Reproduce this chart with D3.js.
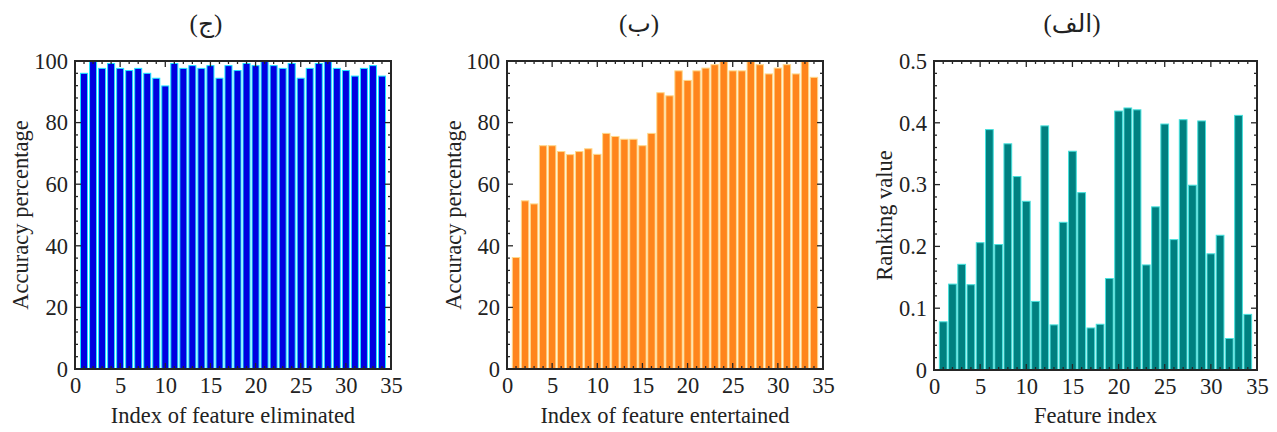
<!DOCTYPE html>
<html>
<head>
<meta charset="utf-8">
<script src="https://cdn.jsdelivr.net/npm/d3@7"></script>
<style>
  html, body { margin: 0; padding: 0; background: #fff; }
  svg text { font-family: "Liberation Serif", "DejaVu Sans", serif; fill: #222; }
</style>
</head>
<body>
<svg id="chart" width="1277" height="432"></svg>
<script>
// Feature indices shared by the three panels
const featureIdx = d3.range(1, 35);

// Accuracy after eliminating each feature (%)
const eliminatedAcc = [96.0, 100, 97.6, 99.2, 97.6, 96.9, 97.6, 96.0, 94.4, 91.9,
  99.2, 97.6, 98.5, 97.6, 98.5, 94.4, 98.5, 96.9, 99.2, 98.5,
  100, 98.5, 97.6, 99.2, 94.4, 97.6, 99.2, 100, 97.6, 96.9,
  95.1, 97.6, 98.5, 95.1];

// Accuracy as features are entertained one by one (%)
const entertainedAcc = [36.2, 54.6, 53.6, 72.5, 72.5, 70.6, 69.6, 70.6, 71.5, 69.7,
  76.5, 75.5, 74.6, 74.6, 72.5, 76.5, 89.7, 88.7, 96.8, 93.7,
  96.8, 97.7, 98.8, 100, 96.8, 96.8, 100, 98.8, 95.8, 97.7,
  98.8, 95.8, 100, 94.7];

// Ranking value for each feature
const rankingVal = [0.078, 0.139, 0.171, 0.138, 0.206, 0.389, 0.203, 0.366, 0.313, 0.273,
  0.111, 0.395, 0.073, 0.239, 0.354, 0.287, 0.068, 0.074, 0.148, 0.419,
  0.424, 0.421, 0.170, 0.264, 0.398, 0.211, 0.405, 0.299, 0.403, 0.188,
  0.218, 0.051, 0.412, 0.090];

// Axis tick values
const xTicks = [0, 5, 10, 15, 20, 25, 30, 35];
const accTicks = [0, 20, 40, 60, 80, 100];
const rankTicks = [0, 0.1, 0.2, 0.3, 0.4, 0.5];

const panels = [
  { values: eliminatedAcc, box: [75, 61, 391, 369], yMax: 100, yTicks: accTicks, yMinor: 4,
    fmt: d => String(d), fill: "#0000e0", edge: "#1ee6ff",
    title: "(ج)", titleX: 206, yLabel: "Accuracy percentage", yLabelX: 20,
    xLabel: "Index of feature eliminated", barW: 0.78 },
  { values: entertainedAcc, box: [507, 61, 823, 369], yMax: 100, yTicks: accTicks, yMinor: 4,
    fmt: d => String(d), fill: "#ff851c", edge: "#ffd88a",
    title: "(ب)", titleX: 639, yLabel: "Accuracy percentage", yLabelX: 453,
    xLabel: "Index of feature entertained", barW: 0.82 },
  { values: rankingVal, box: [934, 61, 1257, 370], yMax: 0.5, yTicks: rankTicks, yMinor: 0.02,
    fmt: d => d === 0 ? "0" : d3.format(".1f")(d), fill: "#008080", edge: "#45e0dc",
    title: "(الف)", titleX: 1072, yLabel: "Ranking value", yLabelX: 884,
    xLabel: "Feature index", barW: 0.84 }
];

const svg = d3.select("#chart");
const frameColor = "#262626";
const tickFont = 22.5;
const labelFont = 22.5;

panels.forEach(p => {
  const [x0, y0, x1, y1] = p.box;
  const x = d3.scaleLinear().domain([0, 35]).range([x0, x1]);
  const y = d3.scaleLinear().domain([0, p.yMax]).range([y1, y0]);
  const g = svg.append("g");

  // bars
  g.selectAll("rect.bar").data(p.values).join("rect")
    .attr("class", "bar")
    .attr("x", (d, i) => x(featureIdx[i] - p.barW / 2))
    .attr("width", x(p.barW) - x(0))
    .attr("y", d => y(d))
    .attr("height", d => y(0) - y(d))
    .attr("fill", p.fill)
    .attr("stroke", p.edge)
    .attr("stroke-width", 1);

  // minor / major ticks pointing inward on all four sides
  const xMinor = d3.range(0, 36, 1);
  const yMinorVals = d3.range(0, p.yMax + p.yMinor / 2, p.yMinor);
  const isMajorX = v => v % 5 === 0;
  const isMajorY = v => p.yTicks.some(t => Math.abs(t - v) < 1e-9);
  const tk = g.append("g").attr("stroke", frameColor).attr("stroke-width", 1.3);
  xMinor.forEach(v => {
    const L = isMajorX(v) ? 6 : 3;
    tk.append("line").attr("x1", x(v)).attr("x2", x(v)).attr("y1", y1).attr("y2", y1 - L);
    tk.append("line").attr("x1", x(v)).attr("x2", x(v)).attr("y1", y0).attr("y2", y0 + L);
  });
  yMinorVals.forEach(v => {
    const L = isMajorY(v) ? 6 : 3;
    tk.append("line").attr("y1", y(v)).attr("y2", y(v)).attr("x1", x0).attr("x2", x0 + L);
    tk.append("line").attr("y1", y(v)).attr("y2", y(v)).attr("x1", x1).attr("x2", x1 - L);
  });

  // frame
  g.append("rect").attr("x", x0).attr("y", y0).attr("width", x1 - x0).attr("height", y1 - y0)
    .attr("fill", "none").attr("stroke", frameColor).attr("stroke-width", 2);

  // tick labels via d3 axes
  const xAxis = g.append("g").attr("transform", `translate(0,${y1})`)
    .call(d3.axisBottom(x).tickValues(xTicks).tickSize(0).tickPadding(8).tickFormat(d3.format("d")));
  const yAxis = g.append("g").attr("transform", `translate(${x0},0)`)
    .call(d3.axisLeft(y).tickValues(p.yTicks).tickSize(0).tickPadding(7).tickFormat(p.fmt));
  [xAxis, yAxis].forEach(a => {
    a.select(".domain").remove();
    a.selectAll("text").attr("font-size", tickFont).attr("fill", "#222")
      .style("font-family", '"Liberation Serif", serif');
  });
  xAxis.selectAll("text").attr("dy", "0.71em");

  // labels
  g.append("text").attr("x", (x0 + x1) / 2).attr("y", 423).attr("text-anchor", "middle")
    .attr("font-size", labelFont).text(p.xLabel);
  g.append("text").attr("transform", `translate(${p.yLabelX + 8},${(y0 + y1) / 2}) rotate(-90)`)
    .attr("text-anchor", "middle").attr("font-size", labelFont).text(p.yLabel);
  g.append("text").attr("x", p.titleX).attr("y", 32).attr("text-anchor", "middle")
    .attr("direction", "rtl").attr("font-size", 25).text(p.title);
});
</script>
</body>
</html>
